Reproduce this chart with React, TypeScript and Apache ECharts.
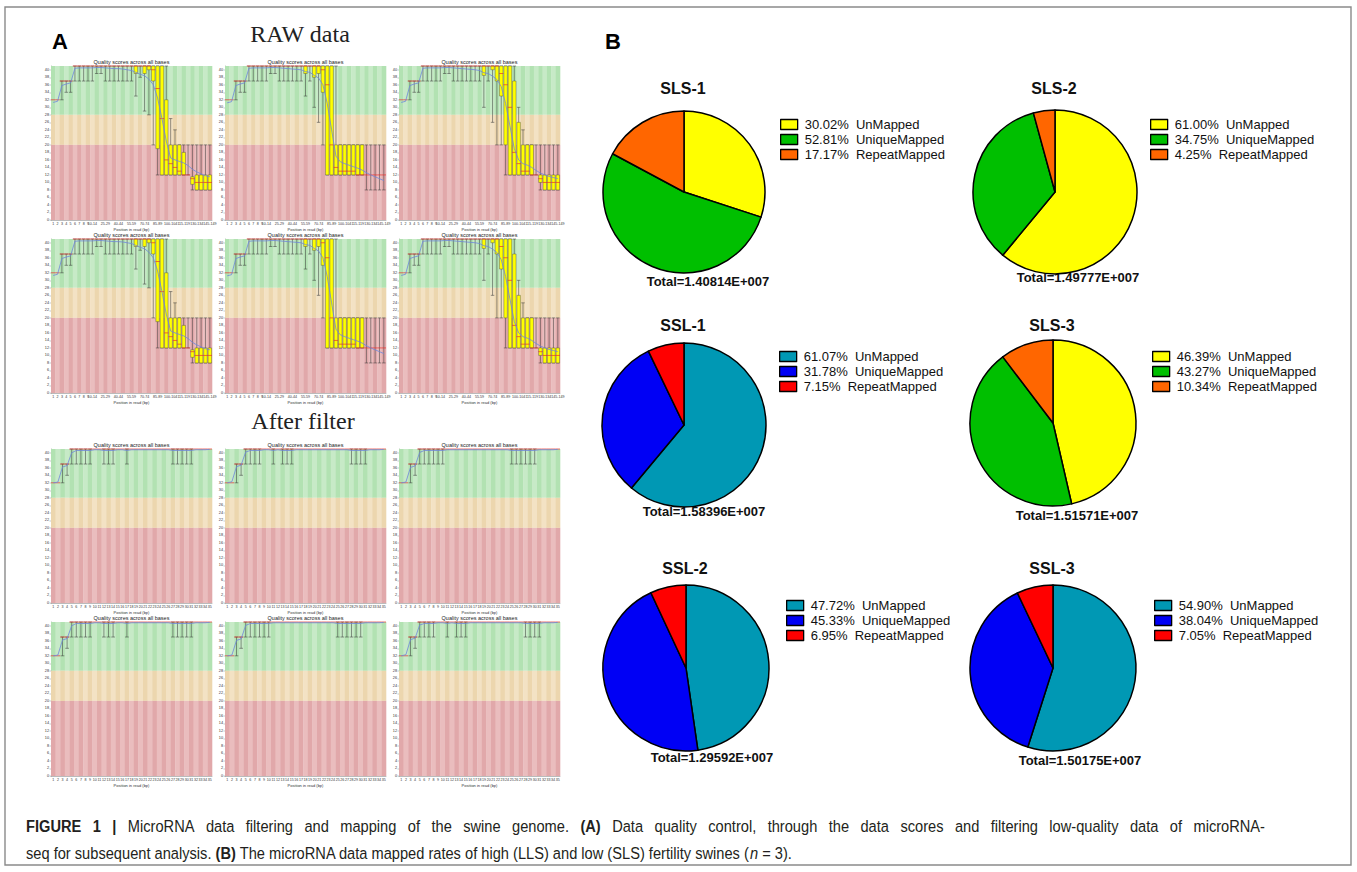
import React, { useEffect, useRef } from "react";
import * as echarts from "echarts";

// ---------- Panel A data (FastQC "Quality scores across all bases") ----------
const rawPositions = [
  "1", "2", "3", "4", "5", "6", "7", "8", "9",
  "10-14", "15-19", "20-24", "25-29", "30-34", "35-39", "40-44", "45-49",
  "50-54", "55-59", "60-64", "65-69", "70-74", "75-79", "80-84", "85-89",
  "90-94", "95-99", "100-104", "105-109", "110-114", "115-119", "120-124",
  "125-129", "130-134", "135-139", "140-144", "145-149",
];
const filteredPositions = [
  "1", "2", "3", "4", "5", "6", "7", "8", "9", "10", "11", "12", "13", "14",
  "15", "16", "17", "18", "19", "20", "21", "22", "23", "24", "25", "26", "27",
  "28", "29", "30", "31", "32", "33", "34", "35",
];

// [lower whisker, Q1, median, Q3, upper whisker]
const rawBoxesA = [
  [32, 32, 32, 32, 32], [32, 32, 32, 32, 32], [32, 37, 37, 37, 37], [34, 37, 37, 37, 37],
  [34, 37, 37, 37, 37], [37, 41, 41, 41, 41], [37, 41, 41, 41, 41], [37, 41, 41, 41, 41],
  [37, 41, 41, 41, 41], [37, 41, 41, 41, 41], [39, 41, 41, 41, 41], [39, 41, 41, 41, 41],
  [37, 41, 41, 41, 41], [37, 41, 41, 41, 41], [37, 41, 41, 41, 41], [37, 41, 41, 41, 41],
  [37, 41, 41, 41, 41], [37, 41, 41, 41, 41], [37, 41, 41, 41, 41], [33, 39, 41, 41, 41],
  [38, 41, 41, 41, 41], [29, 39, 41, 41, 41], [28, 40, 41, 41, 41], [20, 37, 40, 41, 41],
  [12, 19, 35, 41, 41], [12, 12, 27, 41, 41], [12, 12, 16, 32, 41], [12, 12, 15, 20, 27],
  [12, 12, 14, 20, 24], [12, 12, 13, 20, 20], [12, 12, 12, 18, 20], [12, 12, 12, 12, 20],
  [8, 9.5, 11, 11.5, 20], [8, 8, 10, 12, 20], [8, 8, 10, 12, 20], [8, 8, 10, 12, 20],
  [8, 8, 10, 12, 20],
];
const rawMeanA = [
  31.3, 31.6, 35.8, 36.2, 36.5, 40.4, 40.5, 40.5, 40.5, 40.5, 40.6, 40.6, 40.5,
  40.4, 40.3, 40.3, 40.2, 40.0, 39.8, 39.3, 38.8, 38.4, 37.5, 36.0, 32.5, 27.0,
  21.0, 16.5, 16.0, 15.6, 15.2, 14.5, 13.5, 12.8, 12.3, 11.8, 11.5,
];
const rawBoxesB = [
  [32, 32, 32, 32, 32], [32, 32, 32, 32, 32], [32, 37, 37, 37, 37], [34, 37, 37, 37, 37],
  [34, 37, 37, 37, 37], [37, 41, 41, 41, 41], [37, 41, 41, 41, 41], [37, 41, 41, 41, 41],
  [37, 41, 41, 41, 41], [37, 41, 41, 41, 41], [39, 41, 41, 41, 41], [39, 41, 41, 41, 41],
  [37, 41, 41, 41, 41], [37, 41, 41, 41, 41], [37, 41, 41, 41, 41], [37, 41, 41, 41, 41],
  [37, 41, 41, 41, 41], [37, 41, 41, 41, 41], [33, 39, 41, 41, 41], [37, 41, 41, 41, 41],
  [30, 38, 41, 41, 41], [26, 39, 41, 41, 41], [20, 34, 40, 41, 41], [12, 12, 36, 41, 41],
  [12, 12, 20, 41, 41], [12, 12, 14, 20, 41], [12, 12, 13, 20, 20], [12, 12, 13, 20, 20],
  [12, 12, 13, 20, 20], [12, 12, 13, 20, 20], [12, 12, 12, 20, 20], [12, 12, 12, 20, 20],
  [8, 12, 12, 12, 20], [8, 12, 12, 12, 20], [8, 12, 12, 12, 20], [8, 12, 12, 12, 20],
  [8, 12, 12, 12, 20],
];
const rawMeanB = [
  31.2, 31.5, 35.8, 36.2, 36.5, 40.4, 40.5, 40.5, 40.5, 40.5, 40.6, 40.6, 40.5,
  40.4, 40.3, 40.2, 40.1, 40.0, 39.5, 39.3, 38.5, 37.8, 36.0, 31.0, 24.0, 17.0,
  15.5, 15.0, 14.6, 14.2, 13.8, 13.3, 12.6, 12.0, 11.5, 11.0, 10.5,
];
const rawBoxesC = [
  [32, 32, 32, 32, 32], [32, 32, 32, 32, 32], [32, 37, 37, 37, 37], [34, 37, 37, 37, 37],
  [34, 37, 37, 37, 37], [37, 41, 41, 41, 41], [37, 41, 41, 41, 41], [37, 41, 41, 41, 41],
  [37, 41, 41, 41, 41], [37, 41, 41, 41, 41], [39, 41, 41, 41, 41], [39, 41, 41, 41, 41],
  [37, 41, 41, 41, 41], [37, 41, 41, 41, 41], [37, 41, 41, 41, 41], [37, 41, 41, 41, 41],
  [37, 41, 41, 41, 41], [37, 41, 41, 41, 41], [37, 41, 41, 41, 41], [30, 38.5, 41, 41, 41],
  [37, 41, 41, 41, 41], [26, 40, 41, 41, 41], [20, 37, 41, 41, 41], [20, 33, 39, 41, 41],
  [12, 20, 36, 41, 41], [12, 12, 30, 41, 41], [12, 12, 18, 37, 41], [12, 12, 15, 26, 30],
  [12, 12, 13, 20, 24], [12, 12, 13, 20, 20], [12, 12, 12, 20, 20], [12, 12, 12, 12, 20],
  [8, 10, 11, 12, 20], [8, 8, 10, 12, 20], [8, 8, 10, 12, 20], [8, 8, 10, 12, 20],
  [8, 8, 10, 12, 20],
];
const rawMeanC = [
  31.3, 31.6, 35.8, 36.2, 36.5, 40.4, 40.5, 40.5, 40.5, 40.5, 40.6, 40.6, 40.5,
  40.4, 40.3, 40.2, 40.1, 40.0, 39.8, 39.2, 39.0, 38.3, 37.4, 35.5, 31.0, 25.0,
  19.0, 16.0, 15.0, 14.6, 14.0, 13.2, 12.5, 12.0, 11.6, 11.3, 11.0,
];

const filteredBoxesA = [
  [32, 32, 32, 32, 32], [32, 32, 32, 32, 32], [32, 37, 37, 37, 37], [34, 37, 37, 37, 37],
  [37, 41, 41, 41, 41], [37, 41, 41, 41, 41], [37, 41, 41, 41, 41], [37, 41, 41, 41, 41],
  [37, 41, 41, 41, 41], [41, 41, 41, 41, 41], [41, 41, 41, 41, 41], [37, 41, 41, 41, 41],
  [37, 41, 41, 41, 41], [37, 41, 41, 41, 41], [41, 41, 41, 41, 41], [41, 41, 41, 41, 41],
  [37, 41, 41, 41, 41], [41, 41, 41, 41, 41], [41, 41, 41, 41, 41], [41, 41, 41, 41, 41],
  [41, 41, 41, 41, 41], [41, 41, 41, 41, 41], [41, 41, 41, 41, 41], [41, 41, 41, 41, 41],
  [41, 41, 41, 41, 41], [41, 41, 41, 41, 41], [37, 41, 41, 41, 41], [37, 41, 41, 41, 41],
  [37, 41, 41, 41, 41], [37, 41, 41, 41, 41], [37, 41, 41, 41, 41], [41, 41, 41, 41, 41],
  [41, 41, 41, 41, 41], [41, 41, 41, 41, 41], [41, 41, 41, 41, 41],
];
const filteredMeanA = [
  32.0, 32.2, 36.2, 36.6, 40.0, 40.6, 40.6, 40.6, 40.6, 40.8, 40.8, 40.6, 40.6,
  40.6, 40.8, 40.8, 40.6, 40.8, 40.8, 40.8, 40.8, 40.8, 40.8, 40.8, 40.8, 40.8,
  40.6, 40.6, 40.6, 40.6, 40.6, 40.8, 40.8, 40.8, 40.9,
];
const filteredBoxesB = [
  [32, 32, 32, 32, 32], [32, 32, 32, 32, 32], [32, 37, 37, 37, 37], [34, 37, 37, 37, 37],
  [37, 41, 41, 41, 41], [37, 41, 41, 41, 41], [37, 41, 41, 41, 41], [37, 41, 41, 41, 41],
  [41, 41, 41, 41, 41], [41, 41, 41, 41, 41], [37, 41, 41, 41, 41], [41, 41, 41, 41, 41],
  [37, 41, 41, 41, 41], [37, 41, 41, 41, 41], [37, 41, 41, 41, 41], [41, 41, 41, 41, 41],
  [41, 41, 41, 41, 41], [41, 41, 41, 41, 41], [41, 41, 41, 41, 41], [41, 41, 41, 41, 41],
  [41, 41, 41, 41, 41], [41, 41, 41, 41, 41], [41, 41, 41, 41, 41], [41, 41, 41, 41, 41],
  [41, 41, 41, 41, 41], [41, 41, 41, 41, 41], [41, 41, 41, 41, 41], [37, 41, 41, 41, 41],
  [37, 41, 41, 41, 41], [37, 41, 41, 41, 41], [37, 41, 41, 41, 41], [41, 41, 41, 41, 41],
  [41, 41, 41, 41, 41], [41, 41, 41, 41, 41], [41, 41, 41, 41, 41],
];
const filteredMeanB = [
  32.0, 32.3, 36.3, 36.7, 40.2, 40.6, 40.6, 40.6, 40.8, 40.8, 40.6, 40.8, 40.6,
  40.6, 40.6, 40.8, 40.8, 40.8, 40.8, 40.8, 40.8, 40.8, 40.8, 40.8, 40.8, 40.8,
  40.8, 40.6, 40.6, 40.6, 40.6, 40.8, 40.8, 40.8, 40.9,
];
const filteredBoxesC = [
  [32, 32, 32, 32, 32], [32, 32, 32, 32, 32], [32, 37, 37, 37, 37], [34, 37, 37, 37, 37],
  [37, 41, 41, 41, 41], [37, 41, 41, 41, 41], [37, 41, 41, 41, 41], [37, 41, 41, 41, 41],
  [37, 41, 41, 41, 41], [37, 41, 41, 41, 41], [41, 41, 41, 41, 41], [41, 41, 41, 41, 41],
  [41, 41, 41, 41, 41], [41, 41, 41, 41, 41], [41, 41, 41, 41, 41], [41, 41, 41, 41, 41],
  [41, 41, 41, 41, 41], [41, 41, 41, 41, 41], [41, 41, 41, 41, 41], [41, 41, 41, 41, 41],
  [41, 41, 41, 41, 41], [41, 41, 41, 41, 41], [41, 41, 41, 41, 41], [41, 41, 41, 41, 41],
  [37, 41, 41, 41, 41], [37, 41, 41, 41, 41], [37, 41, 41, 41, 41], [37, 41, 41, 41, 41],
  [37, 41, 41, 41, 41], [37, 41, 41, 41, 41], [41, 41, 41, 41, 41], [41, 41, 41, 41, 41],
  [41, 41, 41, 41, 41], [41, 41, 41, 41, 41], [41, 41, 41, 41, 41],
];
const filteredMeanC = [
  32.0, 32.2, 36.1, 36.5, 40.1, 40.6, 40.6, 40.6, 40.6, 40.6, 40.8, 40.8, 40.8,
  40.8, 40.8, 40.8, 40.8, 40.8, 40.8, 40.8, 40.8, 40.8, 40.8, 40.8, 40.6, 40.6,
  40.6, 40.6, 40.6, 40.6, 40.8, 40.8, 40.8, 40.8, 40.9,
];

// ---------- Panel B data (mapping rates) ----------
const sampleNames = ["SLS-1", "SLS-2", "SSL-1", "SLS-3", "SSL-2", "SSL-3"];
const sampleTotals = [
  "1.40814E+007", "1.49777E+007", "1.58396E+007",
  "1.51571E+007", "1.29592E+007", "1.50175E+007",
];
const mappingCategories = ["UnMapped", "UniqueMapped", "RepeatMapped"];
const unMapped = [30.02, 61.0, 61.07, 46.39, 47.72, 54.9];
const uniqueMapped = [52.81, 34.75, 31.78, 43.27, 45.33, 38.04];
const repeatMapped = [17.17, 4.25, 7.15, 10.34, 6.95, 7.05];

// ---------- caption ----------
const captionLine1 = [
  { text: "FIGURE 1 |", bold: true },
  { text: "MicroRNA data filtering and mapping of the swine genome.", bold: false },
  { text: "(A)", bold: true },
  { text: "Data quality control, through the data scores and filtering low-quality data of microRNA-", bold: false },
];
const captionLine2Rich =
  "seq for subsequent analysis. {b|(B)} The microRNA data mapped rates of high (LLS) and low (SLS) fertility swines ({i|n} = 3).";
const captionLine2Plain =
  "seq for subsequent analysis. (B) The microRNA data mapped rates of high (LLS) and low (SLS) fertility swines (n = 3).";

// ---------- styling / layout ----------
const FONT = "Liberation Sans, Arial, Helvetica, sans-serif";
const CAP_FONT = "Liberation Sans, Arial, sans-serif";
const CAP_SIZE = 17;
const SLS_COLORS = ["#ffff00", "#00bf00", "#ff6600"];
const SSL_COLORS = ["#0098b4", "#0000f5", "#ff0000"];
const STRIPES = {
  green: ["#b2e2b2", "#c7eac7"],
  orange: ["#ecd6ae", "#f3e2c4"],
  red: ["#e1a8aa", "#eabdbe"],
};

const plotLefts = [51, 225, 399];
const plotTops = [66, 239, 449, 622];
const PLOT_W = 161;
const PLOT_H = 154;

const pieLayout = [
  { cx: 684, cy: 192, r: 81, titleY: 88, totalX: 708, totalY: 281, legX: 780, legY: 118 },
  { cx: 1055, cy: 192, r: 82, titleY: 88, totalX: 1078, totalY: 277, legX: 1150, legY: 118 },
  { cx: 684, cy: 425, r: 82, titleY: 325, totalX: 704, totalY: 511, legX: 779, legY: 350 },
  { cx: 1053, cy: 423, r: 83, titleY: 325, totalX: 1077, totalY: 515, legX: 1152, legY: 350 },
  { cx: 686, cy: 668, r: 83, titleY: 568, totalX: 712, totalY: 757, legX: 786, legY: 599 },
  { cx: 1053, cy: 668, r: 83, titleY: 568, totalX: 1080, totalY: 760, legX: 1154, legY: 599 },
];

let measureCtx: CanvasRenderingContext2D | null = null;
function measure(text: string, size: number, bold: boolean, italic = false) {
  if (!measureCtx) measureCtx = document.createElement("canvas").getContext("2d");
  if (!measureCtx) return text.length * size * 0.5;
  measureCtx.font = `${italic ? "italic " : ""}${bold ? "bold " : ""}${size}px ${CAP_FONT}`;
  return measureCtx.measureText(text).width;
}

function captionGraphics() {
  const out: any[] = [];
  const x0 = 26;
  const line2Target = 765;
  // horizontal compression that emulates the condensed caption typeface
  const sx = line2Target / measure(captionLine2Plain, CAP_SIZE, false);
  // line 1: fully justified between x0 and x0 + 1239
  const words: { t: string; b: boolean }[] = [];
  captionLine1.forEach((seg) => seg.text.split(" ").forEach((t) => words.push({ t, b: seg.bold })));
  const widths = words.map((w) => measure(w.t, CAP_SIZE, w.b) * sx);
  const total = widths.reduce((a, b) => a + b, 0);
  const gap = (1239 - total) / (words.length - 1);
  let x = x0;
  words.forEach((w, i) => {
    out.push({
      type: "text",
      x,
      y: 826,
      scaleX: sx,
      style: { text: w.t, fontSize: CAP_SIZE, fontWeight: w.b ? "bold" : "normal", fontFamily: CAP_FONT, fill: "#231f20", verticalAlign: "middle" },
    });
    x += widths[i] + gap;
  });
  out.push({
    type: "text",
    x: x0,
    y: 853,
    scaleX: sx,
    style: {
      text: captionLine2Rich,
      fontSize: CAP_SIZE,
      fontFamily: CAP_FONT,
      fill: "#231f20",
      verticalAlign: "middle",
      rich: {
        b: { fontSize: CAP_SIZE, fontWeight: "bold", fontFamily: CAP_FONT, fill: "#231f20" },
        i: { fontSize: CAP_SIZE, fontStyle: "italic", fontFamily: CAP_FONT, fill: "#231f20" },
      },
    },
  });
  return out;
}

function buildOption() {
  const panels = [
    { boxes: rawBoxesA, mean: rawMeanA, cats: rawPositions },
    { boxes: rawBoxesB, mean: rawMeanB, cats: rawPositions },
    { boxes: rawBoxesC, mean: rawMeanC, cats: rawPositions },
    { boxes: rawBoxesA, mean: rawMeanA, cats: rawPositions },
    { boxes: rawBoxesB, mean: rawMeanB, cats: rawPositions },
    { boxes: rawBoxesC, mean: rawMeanC, cats: rawPositions },
    { boxes: filteredBoxesA, mean: filteredMeanA, cats: filteredPositions },
    { boxes: filteredBoxesB, mean: filteredMeanB, cats: filteredPositions },
    { boxes: filteredBoxesC, mean: filteredMeanC, cats: filteredPositions },
    { boxes: filteredBoxesA, mean: filteredMeanA, cats: filteredPositions },
    { boxes: filteredBoxesC, mean: filteredMeanC, cats: filteredPositions },
    { boxes: filteredBoxesB, mean: filteredMeanB, cats: filteredPositions },
  ];

  const grid: any[] = [];
  const xAxis: any[] = [];
  const yAxis: any[] = [];
  const series: any[] = [];
  const graphic: any[] = [];

  panels.forEach((p, k) => {
    const row = Math.floor(k / 3);
    const col = k % 3;
    const left = plotLefts[col];
    const top = plotTops[row];
    const isRaw = p.cats === rawPositions;
    grid.push({ left, top, width: PLOT_W, height: PLOT_H, outerBoundsMode: "none", containLabel: false });
    xAxis.push({
      type: "category",
      gridIndex: k,
      data: p.cats,
      boundaryGap: true,
      name: "Position in read (bp)",
      nameLocation: "middle",
      nameGap: 7,
      nameTextStyle: { fontSize: 4, color: "#333", fontFamily: FONT },
      axisLine: { show: true, lineStyle: { color: "#777", width: 0.5 } },
      axisTick: { show: false },
      axisLabel: {
        fontSize: 3.6,
        color: "#333",
        margin: 2,
        fontFamily: FONT,
        interval: isRaw ? (i: number) => i < 9 || (i - 9) % 3 === 0 : 0,
      },
      splitLine: { show: false },
    });
    yAxis.push({
      type: "value",
      gridIndex: k,
      min: 0,
      max: 41,
      interval: 2,
      axisLine: { show: true, lineStyle: { color: "#777", width: 0.5 } },
      axisTick: { show: true, length: 1.5, lineStyle: { color: "#777", width: 0.4 } },
      axisLabel: { fontSize: 3.8, color: "#333", margin: 2, fontFamily: FONT },
      splitLine: { show: false },
    });

    // background quality bands with alternating stripes
    series.push({
      type: "custom",
      xAxisIndex: k,
      yAxisIndex: k,
      silent: true,
      z: 1,
      data: p.cats.map((_c, i) => [i]),
      encode: { x: 0 },
      renderItem: (_params: any, api: any) => {
        const i = api.value(0);
        const w = api.size([1, 0])[0];
        const cx = api.coord([i, 0])[0];
        const y41 = api.coord([i, 41])[1];
        const y28 = api.coord([i, 28])[1];
        const y20 = api.coord([i, 20])[1];
        const y0 = api.coord([i, 0])[1];
        const odd = i % 2;
        const x = cx - w / 2;
        return {
          type: "group",
          children: [
            { type: "rect", shape: { x, y: y41, width: w + 0.3, height: y28 - y41 }, style: { fill: STRIPES.green[odd] } },
            { type: "rect", shape: { x, y: y28, width: w + 0.3, height: y20 - y28 }, style: { fill: STRIPES.orange[odd] } },
            { type: "rect", shape: { x, y: y20, width: w + 0.3, height: y0 - y20 }, style: { fill: STRIPES.red[odd] } },
          ],
        };
      },
    });

    // box-and-whisker per position
    series.push({
      type: "custom",
      xAxisIndex: k,
      yAxisIndex: k,
      silent: true,
      z: 3,
      data: p.boxes.map((b, i) => [i, ...b]),
      encode: { x: 0, y: [1, 2, 3, 4, 5] },
      renderItem: (_params: any, api: any) => {
        const i = api.value(0);
        const lo = api.value(1);
        const q1 = api.value(2);
        const med = api.value(3);
        const q3 = api.value(4);
        const hi = api.value(5);
        const w = api.size([1, 0])[0];
        const cx = api.coord([i, lo])[0];
        const yLo = api.coord([i, lo])[1];
        const yHi = api.coord([i, hi])[1];
        const yQ1 = api.coord([i, q1])[1];
        const yQ3 = api.coord([i, q3])[1];
        const yMed = api.coord([i, med])[1];
        const children: any[] = [];
        const cw = w * 0.8;
        if (hi > lo) {
          children.push({ type: "line", shape: { x1: cx, y1: yLo, x2: cx, y2: yHi }, style: { stroke: "#333", lineWidth: 0.5 } });
          children.push({ type: "line", shape: { x1: cx - cw / 2, y1: yLo, x2: cx + cw / 2, y2: yLo }, style: { stroke: "#333", lineWidth: 0.5 } });
          children.push({ type: "line", shape: { x1: cx - cw / 2, y1: yHi, x2: cx + cw / 2, y2: yHi }, style: { stroke: "#333", lineWidth: 0.5 } });
        }
        if (q3 > q1) {
          children.push({
            type: "rect",
            shape: { x: cx - cw / 2, y: yQ3, width: cw, height: yQ1 - yQ3 },
            style: { fill: "#ffff00", stroke: "#444", lineWidth: 0.4 },
          });
        }
        children.push({ type: "line", shape: { x1: cx - w / 2, y1: yMed, x2: cx + w / 2, y2: yMed }, style: { stroke: "#e8302c", lineWidth: 0.7 } });
        return { type: "group", children };
      },
    });

    // mean line
    series.push({
      type: "line",
      xAxisIndex: k,
      yAxisIndex: k,
      data: p.mean,
      showSymbol: false,
      symbol: "none",
      silent: true,
      z: 5,
      lineStyle: { color: "#6f86dc", width: 0.8 },
    });

    graphic.push({
      type: "text",
      x: left + PLOT_W / 2,
      y: top - 4,
      style: {
        text: "Quality scores across all bases",
        fontSize: 5.5,
        fontFamily: FONT,
        fill: "#222",
        align: "center",
        verticalAlign: "middle",
      },
    });
  });

  // pies
  const legend: any[] = [];
  const labelMap: Record<string, string> = {};
  sampleNames.forEach((name, s) => {
    const L = pieLayout[s];
    const colors = name.startsWith("SLS") ? SLS_COLORS : SSL_COLORS;
    const values = [unMapped[s], uniqueMapped[s], repeatMapped[s]];
    const data = mappingCategories.map((c, j) => {
      const key = `${name}|${c}`;
      labelMap[key] = `${values[j].toFixed(2)}%  ${c}`;
      return { name: key, value: values[j], itemStyle: { color: colors[j] } };
    });
    series.push({
      type: "pie",
      name,
      center: [L.cx, L.cy],
      radius: L.r,
      startAngle: 90,
      clockwise: true,
      silent: true,
      label: { show: false },
      labelLine: { show: false },
      emphasis: { disabled: true },
      itemStyle: { borderColor: "#000", borderWidth: 1.5 },
      data,
    });
    legend.push({
      data: data.map((d) => d.name),
      orient: "vertical",
      left: L.legX,
      top: L.legY,
      padding: 0,
      itemGap: 2,
      itemWidth: 17,
      itemHeight: 10,
      icon: "rect",
      selectedMode: false,
      itemStyle: { borderColor: "#000", borderWidth: 1.3 },
      textStyle: { fontSize: 13, fontFamily: FONT, color: "#111", padding: [0, 0, 0, 2] },
      formatter: (n: string) => labelMap[n] || n,
    });
    graphic.push({
      type: "text",
      x: L.cx - 1,
      y: L.titleY,
      style: { text: name, fontSize: 16, fontWeight: "bold", fontFamily: FONT, fill: "#111", align: "center", verticalAlign: "middle" },
    });
    graphic.push({
      type: "text",
      x: L.totalX,
      y: L.totalY,
      style: { text: `Total=${sampleTotals[s]}`, fontSize: 13, fontWeight: "bold", fontFamily: FONT, fill: "#111", align: "center", verticalAlign: "middle" },
    });
  });

  // static texts, frame
  graphic.push(
    { type: "rect", shape: { x: 5, y: 7, width: 1346, height: 858 }, style: { fill: "none", stroke: "#8a8a8a", lineWidth: 1.4 } },
    { type: "text", x: 52, y: 41, style: { text: "A", fontSize: 22, fontWeight: "bold", fontFamily: FONT, fill: "#000", verticalAlign: "middle" } },
    { type: "text", x: 605, y: 41, style: { text: "B", fontSize: 22, fontWeight: "bold", fontFamily: FONT, fill: "#000", verticalAlign: "middle" } },
    { type: "text", x: 300, y: 34, style: { text: "RAW data", fontSize: 24, fontFamily: "Liberation Serif, Times New Roman, serif", fill: "#222", align: "center", verticalAlign: "middle" } },
    { type: "text", x: 303, y: 421, style: { text: "After filter", fontSize: 24, fontFamily: "Liberation Serif, Times New Roman, serif", fill: "#222", align: "center", verticalAlign: "middle" } },
    ...captionGraphics()
  );

  return {
    animation: false,
    backgroundColor: "#ffffff",
    textStyle: { fontFamily: FONT },
    grid,
    xAxis,
    yAxis,
    legend,
    series,
    graphic,
  };
}

export default function App() {
  const ref = useRef<HTMLDivElement>(null);
  useEffect(() => {
    if (!ref.current) return;
    const chart = echarts.init(ref.current, null, { renderer: "svg" });
    chart.setOption(buildOption() as any);
    return () => chart.dispose();
  }, []);
  return (
    <div
      ref={ref}
      style={{ position: "absolute", left: 0, top: 0, width: 1357, height: 872, background: "#fff" }}
    />
  );
}
